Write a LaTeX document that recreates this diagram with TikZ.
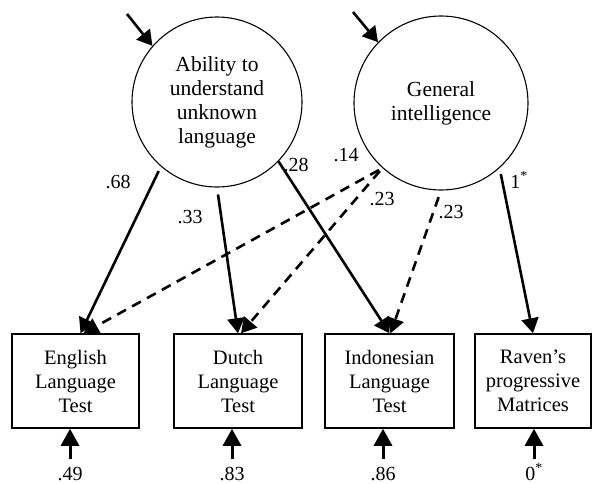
\documentclass[tikz,border=0pt]{standalone}
\usepackage{fontspec}
\setmainfont{Liberation Serif}
\usetikzlibrary{arrows.meta}

\tikzset{
  latent/.style={draw, circle, line width=1.1pt, inner sep=0pt, align=center,
    font=\fontsize{21.5}{24}\selectfont},
  observed/.style={draw, rectangle, line width=1.5pt, minimum height=94pt,
    inner sep=0pt, align=center, font=\fontsize{20.5}{24}\selectfont},
  loading/.style={line width=2.6pt, -{Triangle[length=15pt,width=17pt]}},
  crossload/.style={loading, dash pattern=on 10pt off 7pt},
  errarrow/.style={line width=3pt, -{Triangle[length=17pt,width=18pt]}},
  coef/.style={inner sep=0pt, font=\fontsize{20}{24}\selectfont}
}

\begin{document}
\begin{tikzpicture}[x=1pt, y=-1pt]
\useasboundingbox (0,0) rectangle (592,483);

% latent factors
\node[latent, minimum size=170pt] (ability) at (217,102)
  {Ability to\\understand\\unknown\\language};
\node[latent, minimum size=174pt] (gi) at (441,103)
  {General\\intelligence};

% observed tests
\node[observed, minimum width=127pt] (eng)   at (75.5,381)  {English\\Language\\Test};
\node[observed, minimum width=128pt] (dutch) at (238,381)   {Dutch\\Language\\Test};
\node[observed, minimum width=129pt] (indo)  at (389.5,381) {Indonesian\\Language\\Test};
\node[observed, minimum width=116pt] (raven) at (533,381)   {Raven's\\progressive\\Matrices};

% factor variances
\coordinate (va) at (127,14);
\coordinate (vg) at (353,12);
\draw[loading] (va) -- (ability.139);
\draw[loading] (vg) -- (gi.136);

% loadings
\draw[loading, shorten <=5pt] (ability.229) -- ([xshift=5pt]eng.north);
\draw[loading, shorten <=7pt] (ability.270) -- (dutch.north);
\draw[loading] (ability.316) -- (indo.north);
\draw[crossload, shorten <=4pt] (gi.228) -- ([xshift=8pt]eng.north);
\draw[crossload, shorten <=4pt] (gi.228) -- ([xshift=3pt]dutch.north);
\draw[crossload, shorten <=7pt] (gi.270) -- ([xshift=1pt]indo.north);
\draw[loading, shorten <=6pt] (gi.312) -- (raven.north);

\node[coef] (l68)  at (118,182) {.68};
\node[coef] (l33)  at (190,217) {.33};
\node[coef] (l28)  at (296,165) {.28};
\node[coef] (l14)  at (346,155) {.14};
\node[coef] (l23a) at (382,199) {.23};
\node[coef] (l23b) at (451,212) {.23};
\node[coef] (l1)   at (519,180) {1\textsuperscript{*}};

% residuals
\foreach \obs/\x/\val in {eng/70/.49, dutch/232/.83, indo/383/.86, raven/534/{0\textsuperscript{*}}} {
  \coordinate (e\obs) at (\x,459);
  \draw[errarrow] (e\obs) -- (e\obs |- \obs.south);
  \node[coef, anchor=base] (v\obs) at (\x,480) {\val};
}
\end{tikzpicture}
\end{document}
